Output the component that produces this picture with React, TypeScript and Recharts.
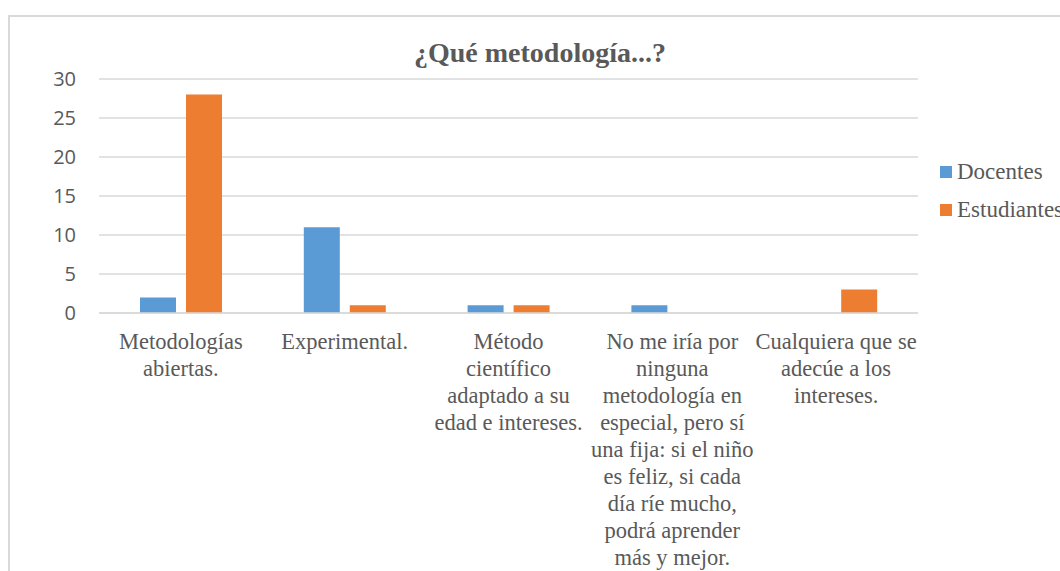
import React from 'react';
import { BarChart, Bar, XAxis, YAxis, CartesianGrid } from 'recharts';

const categories = [
  'Metodologías\nabiertas.',
  'Experimental.',
  'Método\ncientífico\nadaptado a su\nedad e intereses.',
  'No me iría por\nninguna\nmetodología en\nespecial, pero sí\nuna fija: si el niño\nes feliz, si cada\ndía ríe mucho,\npodrá aprender\nmás y mejor.',
  'Cualquiera que se\nadecúe a los\nintereses.',
];
const docentes = [2, 11, 1, 1, 0];
const estudiantes = [28, 1, 1, 0, 3];
const yTicks = [0, 5, 10, 15, 20, 25, 30];

const series = [
  { key: 'Docentes', values: docentes, color: '#5B9BD5' },
  { key: 'Estudiantes', values: estudiantes, color: '#ED7D31' },
];

const data = categories.map((name, i) => ({
  name,
  Docentes: docentes[i],
  Estudiantes: estudiantes[i],
}));

const SERIF = '"Liberation Serif", "DejaVu Serif", serif';
const SANS = '"Open Sans", "Liberation Sans", sans-serif';
const TEXT = '#595959';

const XTick = (props: any) => {
  const { x, y, payload } = props;
  const lines = String(payload.value).split('\n');
  return (
    <text x={x} y={y + 28} textAnchor="middle" fill={TEXT} fontFamily={SERIF} fontSize={22.5}>
      {lines.map((l, i) => (
        <tspan key={i} x={x} dy={i === 0 ? 0 : 27}>{l}</tspan>
      ))}
    </text>
  );
};

const YTick = (props: any) => {
  const { x, y, payload } = props;
  return (
    <text x={x} y={y} dy="0.36em" textAnchor="end" fill={TEXT} fontFamily={SANS} fontSize={20}>
      {payload.value}
    </text>
  );
};

export default function App() {
  return (
    <div style={{ position: 'relative', width: 1060, height: 571, overflow: 'hidden', background: '#fff' }}>
      <style>{`body{margin:0;overflow:hidden}`}</style>
      <div
        style={{
          position: 'absolute', left: 8, top: 15, width: 1100, height: 620,
          border: '2px solid #d9d9d9', boxSizing: 'border-box',
        }}
      />
      <div
        style={{
          position: 'absolute', left: 0, width: 1080, top: 37, textAlign: 'center',
          fontFamily: SERIF, fontWeight: 'bold', fontSize: 28, color: TEXT,
        }}
      >
        ¿Qué metodología...?
      </div>
      <div style={{ position: 'absolute', left: 0, top: 0 }}>
        <BarChart
          width={1060}
          height={571}
          data={data}
          margin={{ top: 79, right: 142, bottom: 0, left: 0 }}
          barSize={36}
          barGap={10}
        >
          <CartesianGrid vertical={false} stroke="#d9d9d9" strokeWidth={1.3} />
          <XAxis
            dataKey="name"
            interval={0}
            tickLine={false}
            axisLine={{ stroke: '#d9d9d9', strokeWidth: 1.3 }}
            tick={<XTick />}
            height={258}
          />
          <YAxis
            width={99}
            domain={[0, 30]}
            ticks={yTicks}
            axisLine={false}
            tickLine={false}
            tickSize={0}
            tickMargin={23}
            tick={<YTick />}
          />
          {series.map(s => (
            <Bar key={s.key} dataKey={s.key} fill={s.color} isAnimationActive={false} />
          ))}
        </BarChart>
      </div>
      <div style={{ position: 'absolute', left: 940, top: 153, fontFamily: SERIF, fontSize: 23, color: TEXT }}>
        {series.map(s => (
          <div key={s.key} style={{ display: 'flex', alignItems: 'center', height: 38, whiteSpace: 'nowrap' }}>
            <span style={{ width: 12, height: 12, background: s.color, marginRight: 5, display: 'inline-block' }} />
            <span>{s.key}</span>
          </div>
        ))}
      </div>
    </div>
  );
}
